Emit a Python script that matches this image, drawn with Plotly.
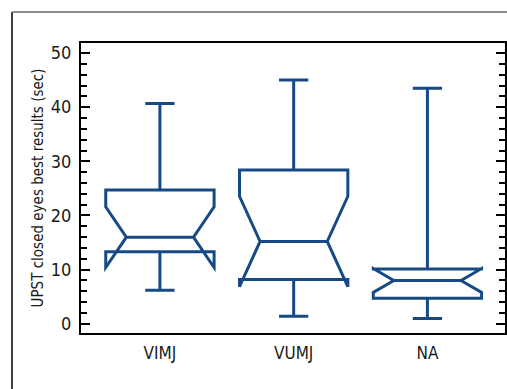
import plotly.graph_objects as go

categories = ["VIMJ", "VUMJ", "NA"]
q1 = [13.3, 8.2, 4.7]
median = [16.0, 15.2, 8.0]
q3 = [24.7, 28.4, 10.1]
lower_whisker = [6.2, 1.4, 1.0]
upper_whisker = [40.7, 45.0, 43.5]
notch_span = [5.6, 8.35, 2.2]

y_ticks = [0, 10, 20, 30, 40, 50]

COLOR = "#174a84"
FONT = "Liberation Sans Narrow, DejaVu Sans Condensed, Arial Narrow, sans-serif"

W, H = 507, 389
L, R, T, B = 81, 2, 43, 56
PW, PH = W - L - R, H - T - B

fig = go.Figure()
fig.add_trace(go.Box(
    x=categories,
    q1=q1, median=median, q3=q3,
    lowerfence=lower_whisker, upperfence=upper_whisker,
    notchspan=notch_span,
    notched=True, notchwidth=0.19,
    boxpoints=False,
    width=0.81, whiskerwidth=0.27,
    line=dict(color=COLOR, width=3),
    fillcolor="rgba(0,0,0,0)",
    showlegend=False,
    hoverinfo="skip",
))

fig.update_layout(
    width=W, height=H, autosize=False,
    margin=dict(l=L, r=R, t=T, b=B, pad=0),
    paper_bgcolor="white", plot_bgcolor="white",
    font=dict(family=FONT, size=16, color="#1a1a1a"),
    xaxis=dict(
        type="category", categoryorder="array", categoryarray=categories,
        range=[-0.59, 2.58], automargin=False,
        showline=True, linecolor="black", linewidth=2, mirror=True,
        ticks="", showgrid=False, zeroline=False,
        tickfont=dict(size=17),
        ticklabelstandoff=4,
    ),
    yaxis=dict(
        range=[-1.7, 51.85], automargin=False,
        tickvals=y_ticks,
        showline=True, linecolor="black", linewidth=2, mirror="ticks",
        ticks="inside", ticklen=9, tickwidth=2, tickcolor="black",
        minor=dict(dtick=2, ticks="inside", ticklen=6, tickwidth=2, tickcolor="black"),
        showgrid=False, zeroline=False,
        tickfont=dict(size=18),
        ticklabelstandoff=4,
        title=dict(text="UPST closed eyes best results (sec)", font=dict(size=15), standoff=4),
    ),
    shapes=[
        dict(type="line", xref="paper", yref="paper",
             x0=(12 - L) / PW, x1=(12 - L) / PW, y0=(H - B - 12) / PH, y1=-0.3,
             line=dict(color="black", width=1.5)),
        dict(type="line", xref="paper", yref="paper",
             x0=(12 - L) / PW, x1=1.05, y0=(H - B - 12) / PH, y1=(H - B - 12) / PH,
             line=dict(color="#666666", width=1.5)),
    ],
)

fig.write_html(
    "out.html",
    config={"displayModeBar": False, "responsive": False},
    post_script="document.body.style.margin='0';document.body.style.overflow='hidden';",
)
